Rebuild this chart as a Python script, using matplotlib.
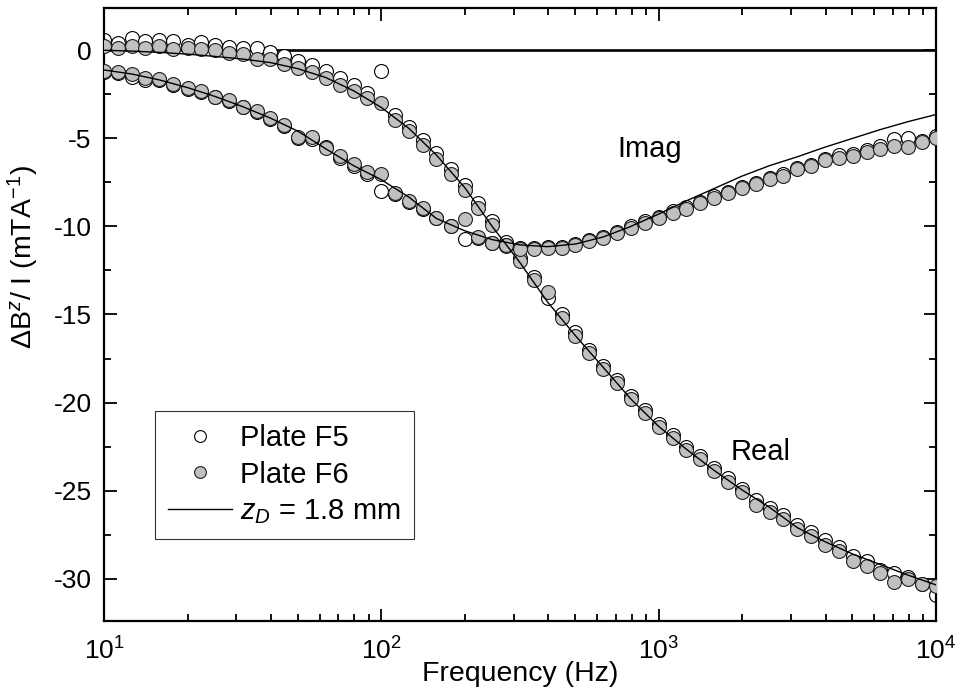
import matplotlib
matplotlib.use('Agg')
import matplotlib.pyplot as plt

plt.rcParams['font.family'] = ['Liberation Sans', 'DejaVu Sans']
plt.rcParams['mathtext.fontset'] = 'custom'
plt.rcParams['mathtext.rm'] = 'Liberation Sans'
plt.rcParams['mathtext.it'] = 'Liberation Sans:italic'
plt.rcParams['axes.unicode_minus'] = False

# measurement frequencies (Hz)
freq = [10, 11.2, 12.6, 14.1, 15.8, 17.8, 20.0, 22.4, 25.1, 28.2,
        31.6, 35.5, 39.8, 44.7, 50.1, 56.2, 63.1, 70.8, 79.4, 89.1,
        100, 112, 126, 141, 158, 178, 200, 224, 251, 282,
        316, 355, 398, 447, 501, 562, 631, 708, 794, 891,
        1000, 1122, 1259, 1413, 1585, 1778, 1995, 2239, 2512, 2818,
        3162, 3548, 3981, 4467, 5012, 5623, 6310, 7079, 7943, 8913, 10000]

f5_real = [0.6, 0.4, 0.7, 0.5, 0.6, 0.55, 0.3, 0.45, 0.3, 0.2,
           0.15, 0.1, -0.1, -0.3, -0.6, -0.85, -1.2, -1.55, -2.0, -2.45,
           -1.2, -3.7, -4.35, -5.1, -5.85, -6.75, -7.65, -8.65, -9.7, -10.9,
           -11.8, -12.9, -14.05, -15.0, -16.0, -17.0, -17.9, -18.7, -19.6, -20.4,
           -21.2, -21.85, -22.5, -23.05, -23.7, -24.3, -24.9, -25.55, -26.0, -26.4,
           -26.95, -27.35, -27.8, -28.2, -28.7, -29.0, -29.5, -29.7, -29.9, -30.3, -30.9]
f5_imag = [-1.25, -1.3, -1.5, -1.7, -1.7, -1.98, -2.2, -2.35, -2.68, -2.88,
           -3.25, -3.5, -3.9, -4.3, -5.0, -5.05, -5.5, -6.1, -6.55, -7.05,
           -8.0, -8.15, -8.6, -9.0, -9.55, -10.0, -10.74, -10.65, -10.95, -11.05,
           -11.2, -11.25, -11.15, -11.15, -11.0, -10.8, -10.6, -10.3, -10.0, -9.72,
           -9.45, -9.15, -8.9, -8.6, -8.3, -8.05, -7.75, -7.55, -7.25, -7.05,
           -6.7, -6.5, -6.15, -5.95, -5.9, -5.65, -5.45, -5.06, -5.0, -5.15, -4.85]

f6_real = [0.24, 0.15, 0.24, 0.15, 0.24, 0.06, 0.1, 0.06, 0.0, -0.13,
           -0.23, -0.47, -0.47, -0.8, -0.98, -1.23, -1.6, -1.95, -2.31, -2.69,
           -2.97, -3.95, -4.58, -5.4, -6.15, -7.05, -7.94, -8.94, -9.94, -11.1,
           -11.97, -13.05, -13.7, -15.2, -16.2, -17.2, -18.1, -18.9, -19.8, -20.6,
           -21.4, -22.0, -22.7, -23.2, -23.9, -24.5, -25.1, -25.8, -26.2, -26.6,
           -27.2, -27.6, -28.1, -28.4, -29.0, -29.3, -29.7, -30.2, -30.0, -30.3, -30.4]
f6_imag = [-1.17, -1.23, -1.36, -1.6, -1.65, -1.93, -2.12, -2.31, -2.63, -2.82,
           -3.2, -3.45, -3.83, -4.26, -4.9, -4.9, -5.53, -6.0, -6.48, -6.91,
           -7.05, -8.1, -8.56, -8.94, -9.5, -9.98, -9.6, -10.6, -10.93, -11.08,
           -11.27, -11.3, -11.2, -11.2, -11.05, -10.85, -10.64, -10.36, -10.07, -9.79,
           -9.5, -9.22, -9.0, -8.66, -8.37, -8.09, -7.8, -7.6, -7.3, -7.14,
           -6.76, -6.57, -6.23, -6.1, -6.0, -5.8, -5.63, -5.44, -5.47, -5.2, -4.96]

# model curve, z_D = 1.8 mm
fit_freq = [10, 12.6, 15.8, 20.0, 25.1, 31.6, 39.8, 50.1, 63.1, 79.4,
            100, 126, 158, 200, 251, 316, 398, 501, 631, 794,
            1000, 1259, 1585, 1995, 2512, 3162, 3981, 5012, 6310, 7943, 10000]
fit_real = [0.0, -0.05, -0.12, -0.22, -0.35, -0.5, -0.7, -1.05, -1.55, -2.3,
            -3.25, -4.45, -5.95, -7.8, -10.0, -12.05, -14.3, -16.2, -18.0, -19.8,
            -21.35, -22.65, -23.85, -24.95, -25.95, -27.1, -27.9, -28.6, -29.2, -29.8, -30.35]
fit_imag = [-1.12, -1.35, -1.68, -2.12, -2.62, -3.2, -3.85, -4.6, -5.6, -6.55,
            -7.35, -8.35, -9.55, -10.25, -10.75, -11.05, -11.15, -11.0, -10.6, -10.0,
            -9.3, -8.55, -7.85, -7.15, -6.55, -6.05, -5.5, -5.0, -4.5, -4.05, -3.65]

fig = plt.figure(figsize=(9.57, 6.93), dpi=100)
ax = fig.add_axes([0.1087, 0.1039, 0.8693, 0.8846])

ax.axhline(0, color='black', lw=1.9, zorder=1)

ms = 10
ax.plot(freq, f5_real, 'o', ms=ms, mfc='white', mec='black', mew=0.8, zorder=2)
ax.plot(freq, f5_imag, 'o', ms=ms, mfc='white', mec='black', mew=0.8, zorder=2,
        label='Plate F5')
ax.plot(freq, f6_real, 'o', ms=ms, mfc='#c0c0c0', mec='#202020', mew=0.8, zorder=3)
ax.plot(freq, f6_imag, 'o', ms=ms, mfc='#c0c0c0', mec='#202020', mew=0.8, zorder=3,
        label='Plate F6')
ax.plot(fit_freq, fit_real, '-', color='black', lw=1.0, zorder=4)
ax.plot(fit_freq, fit_imag, '-', color='black', lw=1.0, zorder=4,
        label=r'$z_D$ = 1.8 mm')

ax.set_xscale('log')
ax.set_xlim(10, 10000)
ax.set_ylim(-32.4, 2.4)
ax.set_yticks([0, -5, -10, -15, -20, -25, -30])
ax.set_yticks([-2.5, -7.5, -12.5, -17.5, -22.5, -27.5], minor=True)

for s in ax.spines.values():
    s.set_linewidth(1.6)
ax.tick_params(which='both', direction='in', top=True, right=True, width=1.3,
               labelsize=19)
ax.tick_params(which='major', length=9)
ax.tick_params(which='minor', length=5)
ax.tick_params(axis='x', pad=12)
ax.tick_params(axis='y', pad=9)

ax.set_xlabel('Frequency (Hz)', fontsize=20.5, labelpad=-3)
ax.set_ylabel(r'$\Delta$B$^z$/ I (mTA$^{-1}$)', fontsize=20.5)
ax.yaxis.set_label_coords(-0.076, 0.594)

ax.text(925, -5.6, 'Imag', fontsize=21, ha='center', va='center')
ax.text(2340, -22.8, 'Real', fontsize=21, ha='center', va='center')

leg = ax.legend(loc='upper left', bbox_to_anchor=(0.061, 0.343), fontsize=21,
                frameon=True, fancybox=False, edgecolor='black', borderpad=0.45,
                handlelength=2.2, handletextpad=0.27, labelspacing=0.3,
                borderaxespad=0, markerscale=0.85)
leg.get_frame().set_linewidth(0.8)

fig.savefig('out.png', dpi=100)
